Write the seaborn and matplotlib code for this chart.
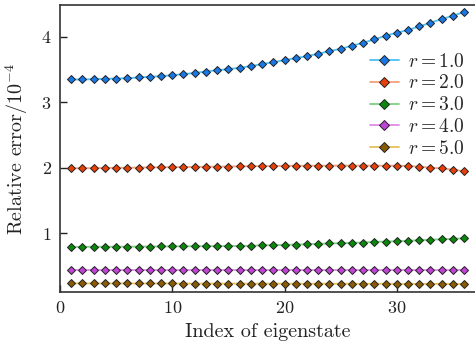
import matplotlib
matplotlib.use("Agg")
import matplotlib.pyplot as plt
import seaborn as sns
import numpy as np

sns.set_theme(style="white")
plt.rcParams['font.family'] = ['cmr10', 'DejaVu Serif']
plt.rcParams['mathtext.fontset'] = 'cm'
plt.rcParams['axes.unicode_minus'] = False
plt.rcParams['axes.formatter.use_mathtext'] = True

index = list(range(1, 37))

err_r1 = [3.347, 3.347, 3.352, 3.357, 3.362, 3.367, 3.378, 3.388, 3.398, 3.413,
          3.429, 3.448, 3.469, 3.490, 3.505, 3.526, 3.551, 3.582, 3.612, 3.643,
          3.673, 3.704, 3.740, 3.781, 3.816, 3.862, 3.908, 3.959, 4.015, 4.061,
          4.102, 4.158, 4.214, 4.270, 4.321, 4.378]
err_r2 = [1.990, 1.992, 1.994, 1.996, 1.998, 2.000, 2.002, 2.004, 2.006, 2.008,
          2.010, 2.012, 2.014, 2.016, 2.018, 2.020, 2.022, 2.024, 2.026, 2.028,
          2.029, 2.030, 2.031, 2.031, 2.032, 2.032, 2.032, 2.031, 2.030, 2.030,
          2.026, 2.015, 2.000, 1.990, 1.970, 1.945]
err_r3 = [0.790, 0.791, 0.792, 0.792, 0.793, 0.794, 0.795, 0.796, 0.797, 0.798,
          0.799, 0.800, 0.801, 0.802, 0.804, 0.806, 0.806, 0.816, 0.816, 0.821,
          0.826, 0.832, 0.837, 0.842, 0.847, 0.852, 0.857, 0.867, 0.872, 0.877,
          0.882, 0.893, 0.898, 0.908, 0.913, 0.923]
err_r4 = [0.430] * 36
err_r5 = [0.232, 0.232, 0.232, 0.232, 0.232, 0.231, 0.231, 0.231, 0.231, 0.231,
          0.230, 0.230, 0.230, 0.230, 0.230, 0.229, 0.229, 0.229, 0.229, 0.229,
          0.228, 0.228, 0.228, 0.228, 0.228, 0.227, 0.227, 0.227, 0.227, 0.226,
          0.226, 0.226, 0.225, 0.225, 0.224, 0.224]

labels = [r"$r = 1.0$", r"$r = 2.0$", r"$r = 3.0$", r"$r = 4.0$", r"$r = 5.0$"]
series = [err_r1, err_r2, err_r3, err_r4, err_r5]
line_colors = ["#4cc0f5", "#f5a07c", "#7fcf86", "#e08ae6", "#e6c25a"]
face_colors = ["#1a78e6", "#e8400a", "#0b870b", "#c043d6", "#8a5a05"]

fig = plt.figure(figsize=(4.75, 3.5), dpi=100)
ax = fig.add_axes([60/475, 1 - 292/350, 1 - 60/475 + 0.002, (292 - 5)/350])

for vals, lab, lc, fc in zip(series, labels, line_colors, face_colors):
    sns.lineplot(x=index, y=vals, ax=ax, color=lc, linewidth=1.3,
                 marker='D', markersize=3.8, markerfacecolor=fc,
                 markeredgecolor="#222222", markeredgewidth=0.7, label=lab)

ax.set_xlim(0, 37.05)
ax.set_ylim(0.101, 4.485)
ax.set_xticks([0, 10, 20, 30])
ax.set_yticks([1, 2, 3, 4])
ax.tick_params(direction='in', length=5, width=1, labelsize=13, colors="#222222",
               pad=6, bottom=True, left=True)
for s in ['left', 'bottom', 'top']:
    ax.spines[s].set_color("#333333")
    ax.spines[s].set_linewidth(1.2)
ax.spines['right'].set_visible(False)

ax.set_xlabel("Index of eigenstate", fontsize=14.5, color="#222222", labelpad=5)
ax.set_ylabel(r"Relative error$/10^{-4}$", fontsize=14.5, color="#222222", labelpad=8)

leg = ax.legend(loc='upper right', bbox_to_anchor=(1.0, 0.875), frameon=False,
                fontsize=14, markerscale=1.4, handlelength=1.5, handletextpad=0.45,
                labelspacing=0.2, borderaxespad=0.2)

fig.savefig("out.png", dpi=100)
